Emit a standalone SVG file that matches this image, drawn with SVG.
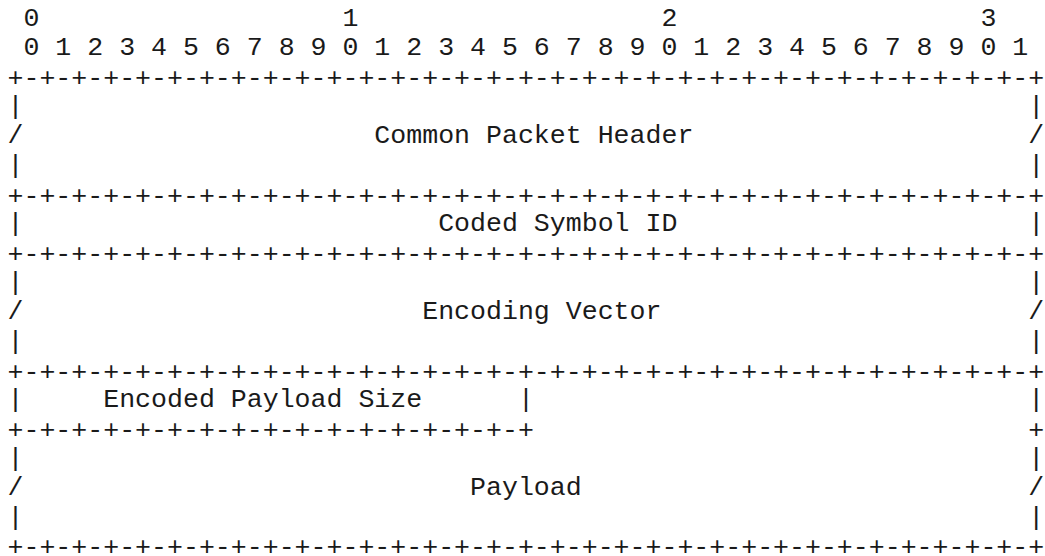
<svg xmlns="http://www.w3.org/2000/svg" width="1045" height="556" viewBox="0 0 1045 556" xml:space="preserve">
  <style>
    .t { font-family: "Liberation Mono", "Courier New", monospace; font-size: 26.58px; fill: #1a1a1a; white-space: pre; }
  </style>
  <rect width="1045" height="556" fill="#fff"/>

  <!-- bit ruler -->
  <g id="bit-ruler">
    <text class="t" x="7.5" y="26"> 0                   1                   2                   3</text>
    <text class="t" x="7.5" y="55.3"> 0 1 2 3 4 5 6 7 8 9 0 1 2 3 4 5 6 7 8 9 0 1 2 3 4 5 6 7 8 9 0 1</text>
  </g>

  <!-- packet fields; the +-+ rules sit a touch lower so the plus signs line up with the bars -->
  <g id="common-packet-header">
    <text class="t" x="7.5" y="86.2">+-+-+-+-+-+-+-+-+-+-+-+-+-+-+-+-+-+-+-+-+-+-+-+-+-+-+-+-+-+-+-+-+</text>
    <text class="t" x="7.5" y="114">|                                                               |</text>
    <text class="t" x="7.5" y="143.3">/                      Common Packet Header                     /</text>
    <text class="t" x="7.5" y="172.7">|                                                               |</text>
  </g>

  <g id="coded-symbol-id">
    <text class="t" x="7.5" y="203.5">+-+-+-+-+-+-+-+-+-+-+-+-+-+-+-+-+-+-+-+-+-+-+-+-+-+-+-+-+-+-+-+-+</text>
    <text class="t" x="7.5" y="231.3">|                          Coded Symbol ID                      |</text>
  </g>

  <g id="encoding-vector">
    <text class="t" x="7.5" y="262.2">+-+-+-+-+-+-+-+-+-+-+-+-+-+-+-+-+-+-+-+-+-+-+-+-+-+-+-+-+-+-+-+-+</text>
    <text class="t" x="7.5" y="290">|                                                               |</text>
    <text class="t" x="7.5" y="319.3">/                         Encoding Vector                       /</text>
    <text class="t" x="7.5" y="348.7">|                                                               |</text>
  </g>

  <g id="encoded-payload-size">
    <text class="t" x="7.5" y="379.5">+-+-+-+-+-+-+-+-+-+-+-+-+-+-+-+-+-+-+-+-+-+-+-+-+-+-+-+-+-+-+-+-+</text>
    <text class="t" x="7.5" y="407.3">|     Encoded Payload Size      |                               |</text>
  </g>

  <g id="payload">
    <text class="t" x="7.5" y="438.2">+-+-+-+-+-+-+-+-+-+-+-+-+-+-+-+-+                               +</text>
    <text class="t" x="7.5" y="466">|                                                               |</text>
    <text class="t" x="7.5" y="495.3">/                            Payload                            /</text>
    <text class="t" x="7.5" y="524.7">|                                                               |</text>
    <text class="t" x="7.5" y="555">+-+-+-+-+-+-+-+-+-+-+-+-+-+-+-+-+-+-+-+-+-+-+-+-+-+-+-+-+-+-+-+-+</text>
  </g>
</svg>
